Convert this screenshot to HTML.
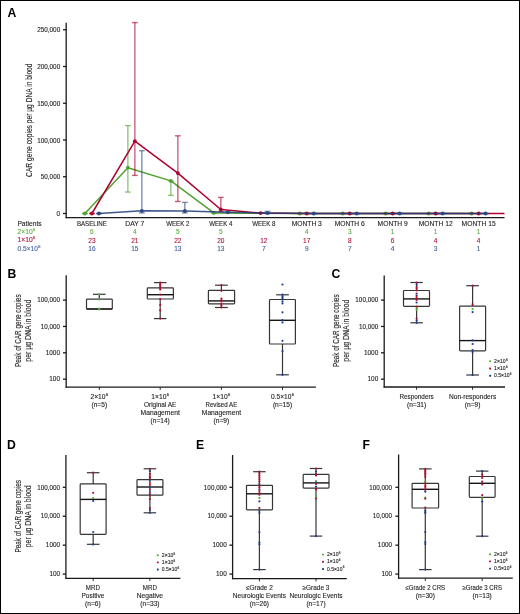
<!DOCTYPE html>
<html><head><meta charset="utf-8"><style>
html,body{margin:0;padding:0;background:#fff;}
body{width:520px;height:614px;overflow:hidden;font-family:"Liberation Sans", sans-serif;}
svg{display:block;will-change:transform;}
</style></head><body>
<svg width="520" height="614" viewBox="0 0 520 614" font-family='"Liberation Sans", sans-serif'>
<rect x="0" y="0" width="520" height="614" fill="#fff"/>
<rect x="0.5" y="0.5" width="519" height="613" fill="none" stroke="#000" stroke-width="1"/>
<text x="7.6" y="16.6" font-size="12.2" font-weight="bold" fill="#000">A</text>
<line x1="66.20" y1="22.80" x2="66.20" y2="218.30" stroke="#1a1a1a" stroke-width="1.3" />
<line x1="65.60" y1="217.70" x2="504.50" y2="217.70" stroke="#1a1a1a" stroke-width="1.3" />
<line x1="63.00" y1="213.50" x2="66.20" y2="213.50" stroke="#1a1a1a" stroke-width="1.3" />
<text x="60.20" y="216.20" font-size="6.8" text-anchor="end" fill="#231f20" stroke="#231f20" stroke-width="0.12" font-weight="normal" textLength="3.59" lengthAdjust="spacingAndGlyphs" >0</text>
<line x1="63.00" y1="176.75" x2="66.20" y2="176.75" stroke="#1a1a1a" stroke-width="1.3" />
<text x="60.20" y="179.45" font-size="6.8" text-anchor="end" fill="#231f20" stroke="#231f20" stroke-width="0.12" font-weight="normal" textLength="19.40" lengthAdjust="spacingAndGlyphs" >50,000</text>
<line x1="63.00" y1="140.00" x2="66.20" y2="140.00" stroke="#1a1a1a" stroke-width="1.3" />
<text x="60.20" y="142.70" font-size="6.8" text-anchor="end" fill="#231f20" stroke="#231f20" stroke-width="0.12" font-weight="normal" textLength="23.00" lengthAdjust="spacingAndGlyphs" >100,000</text>
<line x1="63.00" y1="103.25" x2="66.20" y2="103.25" stroke="#1a1a1a" stroke-width="1.3" />
<text x="60.20" y="105.95" font-size="6.8" text-anchor="end" fill="#231f20" stroke="#231f20" stroke-width="0.12" font-weight="normal" textLength="23.00" lengthAdjust="spacingAndGlyphs" >150,000</text>
<line x1="63.00" y1="66.50" x2="66.20" y2="66.50" stroke="#1a1a1a" stroke-width="1.3" />
<text x="60.20" y="69.20" font-size="6.8" text-anchor="end" fill="#231f20" stroke="#231f20" stroke-width="0.12" font-weight="normal" textLength="23.00" lengthAdjust="spacingAndGlyphs" >200,000</text>
<line x1="63.00" y1="29.75" x2="66.20" y2="29.75" stroke="#1a1a1a" stroke-width="1.3" />
<text x="60.20" y="32.45" font-size="6.8" text-anchor="end" fill="#231f20" stroke="#231f20" stroke-width="0.12" font-weight="normal" textLength="23.00" lengthAdjust="spacingAndGlyphs" >250,000</text>
<text x="31.90" y="120.20" transform="rotate(-90 31.90 120.20)" font-size="8.5" text-anchor="middle" fill="#231f20" stroke="#231f20" stroke-width="0.12" font-weight="normal" textLength="113.40" lengthAdjust="spacingAndGlyphs" >CAR gene copies per µg DNA in blood</text>
<text x="91.90" y="226.00" font-size="6.9" text-anchor="middle" fill="#231f20" stroke="#231f20" stroke-width="0.12" font-weight="normal" textLength="30.00" lengthAdjust="spacingAndGlyphs" >BASELINE</text>
<text x="134.87" y="226.00" font-size="6.9" text-anchor="middle" fill="#231f20" stroke="#231f20" stroke-width="0.12" font-weight="normal" textLength="19.08" lengthAdjust="spacingAndGlyphs" >DAY 7</text>
<text x="177.84" y="226.00" font-size="6.9" text-anchor="middle" fill="#231f20" stroke="#231f20" stroke-width="0.12" font-weight="normal" textLength="23.20" lengthAdjust="spacingAndGlyphs" >WEEK 2</text>
<text x="220.81" y="226.00" font-size="6.9" text-anchor="middle" fill="#231f20" stroke="#231f20" stroke-width="0.12" font-weight="normal" textLength="23.20" lengthAdjust="spacingAndGlyphs" >WEEK 4</text>
<text x="263.78" y="226.00" font-size="6.9" text-anchor="middle" fill="#231f20" stroke="#231f20" stroke-width="0.12" font-weight="normal" textLength="23.20" lengthAdjust="spacingAndGlyphs" >WEEK 8</text>
<text x="306.75" y="226.00" font-size="6.9" text-anchor="middle" fill="#231f20" stroke="#231f20" stroke-width="0.12" font-weight="normal" textLength="30.19" lengthAdjust="spacingAndGlyphs" >MONTH 3</text>
<text x="349.72" y="226.00" font-size="6.9" text-anchor="middle" fill="#231f20" stroke="#231f20" stroke-width="0.12" font-weight="normal" textLength="30.19" lengthAdjust="spacingAndGlyphs" >MONTH 6</text>
<text x="392.69" y="226.00" font-size="6.9" text-anchor="middle" fill="#231f20" stroke="#231f20" stroke-width="0.12" font-weight="normal" textLength="30.19" lengthAdjust="spacingAndGlyphs" >MONTH 9</text>
<text x="435.66" y="226.00" font-size="6.9" text-anchor="middle" fill="#231f20" stroke="#231f20" stroke-width="0.12" font-weight="normal" textLength="34.04" lengthAdjust="spacingAndGlyphs" >MONTH 12</text>
<text x="478.63" y="226.00" font-size="6.9" text-anchor="middle" fill="#231f20" stroke="#231f20" stroke-width="0.12" font-weight="normal" textLength="34.04" lengthAdjust="spacingAndGlyphs" >MONTH 15</text>
<text x="91.90" y="234.40" font-size="6.9" text-anchor="middle" fill="#5fae45" stroke="#5fae45" stroke-width="0.12" font-weight="normal" textLength="3.64" lengthAdjust="spacingAndGlyphs" >6</text>
<text x="91.90" y="242.50" font-size="6.9" text-anchor="middle" fill="#b5163f" stroke="#b5163f" stroke-width="0.12" font-weight="normal" textLength="7.28" lengthAdjust="spacingAndGlyphs" >23</text>
<text x="91.90" y="250.60" font-size="6.9" text-anchor="middle" fill="#46629f" stroke="#46629f" stroke-width="0.12" font-weight="normal" textLength="7.28" lengthAdjust="spacingAndGlyphs" >16</text>
<text x="134.87" y="234.40" font-size="6.9" text-anchor="middle" fill="#5fae45" stroke="#5fae45" stroke-width="0.12" font-weight="normal" textLength="3.64" lengthAdjust="spacingAndGlyphs" >4</text>
<text x="134.87" y="242.50" font-size="6.9" text-anchor="middle" fill="#b5163f" stroke="#b5163f" stroke-width="0.12" font-weight="normal" textLength="7.28" lengthAdjust="spacingAndGlyphs" >21</text>
<text x="134.87" y="250.60" font-size="6.9" text-anchor="middle" fill="#46629f" stroke="#46629f" stroke-width="0.12" font-weight="normal" textLength="7.28" lengthAdjust="spacingAndGlyphs" >15</text>
<text x="177.84" y="234.40" font-size="6.9" text-anchor="middle" fill="#5fae45" stroke="#5fae45" stroke-width="0.12" font-weight="normal" textLength="3.64" lengthAdjust="spacingAndGlyphs" >5</text>
<text x="177.84" y="242.50" font-size="6.9" text-anchor="middle" fill="#b5163f" stroke="#b5163f" stroke-width="0.12" font-weight="normal" textLength="7.28" lengthAdjust="spacingAndGlyphs" >22</text>
<text x="177.84" y="250.60" font-size="6.9" text-anchor="middle" fill="#46629f" stroke="#46629f" stroke-width="0.12" font-weight="normal" textLength="7.28" lengthAdjust="spacingAndGlyphs" >13</text>
<text x="220.81" y="234.40" font-size="6.9" text-anchor="middle" fill="#5fae45" stroke="#5fae45" stroke-width="0.12" font-weight="normal" textLength="3.64" lengthAdjust="spacingAndGlyphs" >5</text>
<text x="220.81" y="242.50" font-size="6.9" text-anchor="middle" fill="#b5163f" stroke="#b5163f" stroke-width="0.12" font-weight="normal" textLength="7.28" lengthAdjust="spacingAndGlyphs" >20</text>
<text x="220.81" y="250.60" font-size="6.9" text-anchor="middle" fill="#46629f" stroke="#46629f" stroke-width="0.12" font-weight="normal" textLength="7.28" lengthAdjust="spacingAndGlyphs" >13</text>
<text x="263.78" y="242.50" font-size="6.9" text-anchor="middle" fill="#b5163f" stroke="#b5163f" stroke-width="0.12" font-weight="normal" textLength="7.28" lengthAdjust="spacingAndGlyphs" >12</text>
<text x="263.78" y="250.60" font-size="6.9" text-anchor="middle" fill="#46629f" stroke="#46629f" stroke-width="0.12" font-weight="normal" textLength="3.64" lengthAdjust="spacingAndGlyphs" >7</text>
<text x="306.75" y="234.40" font-size="6.9" text-anchor="middle" fill="#5fae45" stroke="#5fae45" stroke-width="0.12" font-weight="normal" textLength="3.64" lengthAdjust="spacingAndGlyphs" >4</text>
<text x="306.75" y="242.50" font-size="6.9" text-anchor="middle" fill="#b5163f" stroke="#b5163f" stroke-width="0.12" font-weight="normal" textLength="7.28" lengthAdjust="spacingAndGlyphs" >17</text>
<text x="306.75" y="250.60" font-size="6.9" text-anchor="middle" fill="#46629f" stroke="#46629f" stroke-width="0.12" font-weight="normal" textLength="3.64" lengthAdjust="spacingAndGlyphs" >9</text>
<text x="349.72" y="234.40" font-size="6.9" text-anchor="middle" fill="#5fae45" stroke="#5fae45" stroke-width="0.12" font-weight="normal" textLength="3.64" lengthAdjust="spacingAndGlyphs" >3</text>
<text x="349.72" y="242.50" font-size="6.9" text-anchor="middle" fill="#b5163f" stroke="#b5163f" stroke-width="0.12" font-weight="normal" textLength="3.64" lengthAdjust="spacingAndGlyphs" >8</text>
<text x="349.72" y="250.60" font-size="6.9" text-anchor="middle" fill="#46629f" stroke="#46629f" stroke-width="0.12" font-weight="normal" textLength="3.64" lengthAdjust="spacingAndGlyphs" >7</text>
<text x="392.69" y="234.40" font-size="6.9" text-anchor="middle" fill="#5fae45" stroke="#5fae45" stroke-width="0.12" font-weight="normal" textLength="3.64" lengthAdjust="spacingAndGlyphs" >1</text>
<text x="392.69" y="242.50" font-size="6.9" text-anchor="middle" fill="#b5163f" stroke="#b5163f" stroke-width="0.12" font-weight="normal" textLength="3.64" lengthAdjust="spacingAndGlyphs" >6</text>
<text x="392.69" y="250.60" font-size="6.9" text-anchor="middle" fill="#46629f" stroke="#46629f" stroke-width="0.12" font-weight="normal" textLength="3.64" lengthAdjust="spacingAndGlyphs" >4</text>
<text x="435.66" y="234.40" font-size="6.9" text-anchor="middle" fill="#5fae45" stroke="#5fae45" stroke-width="0.12" font-weight="normal" textLength="3.64" lengthAdjust="spacingAndGlyphs" >1</text>
<text x="435.66" y="242.50" font-size="6.9" text-anchor="middle" fill="#b5163f" stroke="#b5163f" stroke-width="0.12" font-weight="normal" textLength="3.64" lengthAdjust="spacingAndGlyphs" >4</text>
<text x="435.66" y="250.60" font-size="6.9" text-anchor="middle" fill="#46629f" stroke="#46629f" stroke-width="0.12" font-weight="normal" textLength="3.64" lengthAdjust="spacingAndGlyphs" >3</text>
<text x="478.63" y="234.40" font-size="6.9" text-anchor="middle" fill="#5fae45" stroke="#5fae45" stroke-width="0.12" font-weight="normal" textLength="3.64" lengthAdjust="spacingAndGlyphs" >1</text>
<text x="478.63" y="242.50" font-size="6.9" text-anchor="middle" fill="#b5163f" stroke="#b5163f" stroke-width="0.12" font-weight="normal" textLength="3.64" lengthAdjust="spacingAndGlyphs" >4</text>
<text x="478.63" y="250.60" font-size="6.9" text-anchor="middle" fill="#46629f" stroke="#46629f" stroke-width="0.12" font-weight="normal" textLength="3.64" lengthAdjust="spacingAndGlyphs" >1</text>
<text x="17.40" y="226.00" font-size="6.8" text-anchor="start" fill="#231f20" stroke="#231f20" stroke-width="0.12" font-weight="normal" textLength="24.21" lengthAdjust="spacingAndGlyphs" >Patients</text>
<text x="17.60" y="234.20" font-size="6.8" text-anchor="start" fill="#5fae45" stroke="#5fae45" stroke-width="0.12" font-weight="normal" textLength="15.16" lengthAdjust="spacingAndGlyphs" >2×10</text>
<text x="33.06" y="231.34" font-size="4.08" text-anchor="start" fill="#5fae45" stroke="#5fae45" stroke-width="0.12" font-weight="normal" textLength="2.26" lengthAdjust="spacingAndGlyphs" >6</text>
<text x="17.60" y="242.30" font-size="6.8" text-anchor="start" fill="#b5163f" stroke="#b5163f" stroke-width="0.12" font-weight="normal" textLength="15.16" lengthAdjust="spacingAndGlyphs" >1×10</text>
<text x="33.06" y="239.44" font-size="4.08" text-anchor="start" fill="#b5163f" stroke="#b5163f" stroke-width="0.12" font-weight="normal" textLength="2.26" lengthAdjust="spacingAndGlyphs" >6</text>
<text x="17.60" y="250.50" font-size="6.8" text-anchor="start" fill="#46629f" stroke="#46629f" stroke-width="0.12" font-weight="normal" textLength="20.27" lengthAdjust="spacingAndGlyphs" >0.5×10</text>
<text x="38.17" y="247.64" font-size="4.08" text-anchor="start" fill="#46629f" stroke="#46629f" stroke-width="0.12" font-weight="normal" textLength="2.26" lengthAdjust="spacingAndGlyphs" >6</text>
<line x1="82.00" y1="213.50" x2="87.80" y2="213.50" stroke="#51a230" stroke-width="1.4" stroke-opacity="0.62"/>
<line x1="82.00" y1="213.50" x2="87.80" y2="213.50" stroke="#51a230" stroke-width="1.4" stroke-opacity="0.62"/>
<line x1="127.87" y1="125.60" x2="127.87" y2="192.10" stroke="#51a230" stroke-width="1.4" stroke-opacity="0.62"/>
<line x1="124.97" y1="125.60" x2="130.77" y2="125.60" stroke="#51a230" stroke-width="1.4" stroke-opacity="0.62"/>
<line x1="124.97" y1="192.10" x2="130.77" y2="192.10" stroke="#51a230" stroke-width="1.4" stroke-opacity="0.62"/>
<line x1="170.84" y1="180.90" x2="170.84" y2="195.40" stroke="#51a230" stroke-width="1.4" stroke-opacity="0.62"/>
<line x1="167.94" y1="180.90" x2="173.74" y2="180.90" stroke="#51a230" stroke-width="1.4" stroke-opacity="0.62"/>
<line x1="167.94" y1="195.40" x2="173.74" y2="195.40" stroke="#51a230" stroke-width="1.4" stroke-opacity="0.62"/>
<line x1="210.91" y1="212.90" x2="216.71" y2="212.90" stroke="#51a230" stroke-width="1.4" stroke-opacity="0.62"/>
<line x1="210.91" y1="212.90" x2="216.71" y2="212.90" stroke="#51a230" stroke-width="1.4" stroke-opacity="0.62"/>
<line x1="296.85" y1="213.50" x2="302.65" y2="213.50" stroke="#51a230" stroke-width="1.4" stroke-opacity="0.62"/>
<line x1="296.85" y1="213.50" x2="302.65" y2="213.50" stroke="#51a230" stroke-width="1.4" stroke-opacity="0.62"/>
<line x1="339.82" y1="213.50" x2="345.62" y2="213.50" stroke="#51a230" stroke-width="1.4" stroke-opacity="0.62"/>
<line x1="339.82" y1="213.50" x2="345.62" y2="213.50" stroke="#51a230" stroke-width="1.4" stroke-opacity="0.62"/>
<line x1="382.79" y1="213.50" x2="388.59" y2="213.50" stroke="#51a230" stroke-width="1.4" stroke-opacity="0.62"/>
<line x1="382.79" y1="213.50" x2="388.59" y2="213.50" stroke="#51a230" stroke-width="1.4" stroke-opacity="0.62"/>
<line x1="425.76" y1="213.50" x2="431.56" y2="213.50" stroke="#51a230" stroke-width="1.4" stroke-opacity="0.62"/>
<line x1="425.76" y1="213.50" x2="431.56" y2="213.50" stroke="#51a230" stroke-width="1.4" stroke-opacity="0.62"/>
<line x1="468.73" y1="213.50" x2="474.53" y2="213.50" stroke="#51a230" stroke-width="1.4" stroke-opacity="0.62"/>
<line x1="468.73" y1="213.50" x2="474.53" y2="213.50" stroke="#51a230" stroke-width="1.4" stroke-opacity="0.62"/>
<polyline points="84.90,213.50 127.87,167.70 170.84,180.90 213.81,212.90 299.75,213.50 342.72,213.50 385.69,213.50 428.66,213.50 471.63,213.50" fill="none" stroke="#51a230" stroke-width="1.5" stroke-linejoin="round"/>
<circle cx="84.90" cy="213.50" r="1.9" fill="#51a230"/>
<circle cx="127.87" cy="167.70" r="1.9" fill="#51a230"/>
<circle cx="170.84" cy="180.90" r="1.9" fill="#51a230"/>
<circle cx="213.81" cy="212.90" r="1.9" fill="#51a230"/>
<circle cx="299.75" cy="213.50" r="1.9" fill="#51a230"/>
<circle cx="342.72" cy="213.50" r="1.9" fill="#51a230"/>
<circle cx="385.69" cy="213.50" r="1.9" fill="#51a230"/>
<circle cx="428.66" cy="213.50" r="1.9" fill="#51a230"/>
<circle cx="471.63" cy="213.50" r="1.9" fill="#51a230"/>
<line x1="89.00" y1="213.50" x2="94.80" y2="213.50" stroke="#a8042f" stroke-width="1.4" stroke-opacity="0.62"/>
<line x1="89.00" y1="213.50" x2="94.80" y2="213.50" stroke="#a8042f" stroke-width="1.4" stroke-opacity="0.62"/>
<line x1="134.87" y1="22.60" x2="134.87" y2="175.40" stroke="#a8042f" stroke-width="1.4" stroke-opacity="0.62"/>
<line x1="131.97" y1="22.60" x2="137.77" y2="22.60" stroke="#a8042f" stroke-width="1.4" stroke-opacity="0.62"/>
<line x1="131.97" y1="175.40" x2="137.77" y2="175.40" stroke="#a8042f" stroke-width="1.4" stroke-opacity="0.62"/>
<line x1="177.84" y1="135.80" x2="177.84" y2="201.50" stroke="#a8042f" stroke-width="1.4" stroke-opacity="0.62"/>
<line x1="174.94" y1="135.80" x2="180.74" y2="135.80" stroke="#a8042f" stroke-width="1.4" stroke-opacity="0.62"/>
<line x1="174.94" y1="201.50" x2="180.74" y2="201.50" stroke="#a8042f" stroke-width="1.4" stroke-opacity="0.62"/>
<line x1="220.81" y1="197.40" x2="220.81" y2="211.50" stroke="#a8042f" stroke-width="1.4" stroke-opacity="0.62"/>
<line x1="217.91" y1="197.40" x2="223.71" y2="197.40" stroke="#a8042f" stroke-width="1.4" stroke-opacity="0.62"/>
<line x1="217.91" y1="211.50" x2="223.71" y2="211.50" stroke="#a8042f" stroke-width="1.4" stroke-opacity="0.62"/>
<line x1="257.60" y1="213.10" x2="263.40" y2="213.10" stroke="#a8042f" stroke-width="1.4" stroke-opacity="0.62"/>
<line x1="257.60" y1="213.10" x2="263.40" y2="213.10" stroke="#a8042f" stroke-width="1.4" stroke-opacity="0.62"/>
<line x1="303.85" y1="213.50" x2="309.65" y2="213.50" stroke="#a8042f" stroke-width="1.4" stroke-opacity="0.62"/>
<line x1="303.85" y1="213.50" x2="309.65" y2="213.50" stroke="#a8042f" stroke-width="1.4" stroke-opacity="0.62"/>
<line x1="346.82" y1="213.50" x2="352.62" y2="213.50" stroke="#a8042f" stroke-width="1.4" stroke-opacity="0.62"/>
<line x1="346.82" y1="213.50" x2="352.62" y2="213.50" stroke="#a8042f" stroke-width="1.4" stroke-opacity="0.62"/>
<line x1="389.79" y1="213.50" x2="395.59" y2="213.50" stroke="#a8042f" stroke-width="1.4" stroke-opacity="0.62"/>
<line x1="389.79" y1="213.50" x2="395.59" y2="213.50" stroke="#a8042f" stroke-width="1.4" stroke-opacity="0.62"/>
<line x1="432.76" y1="213.50" x2="438.56" y2="213.50" stroke="#a8042f" stroke-width="1.4" stroke-opacity="0.62"/>
<line x1="432.76" y1="213.50" x2="438.56" y2="213.50" stroke="#a8042f" stroke-width="1.4" stroke-opacity="0.62"/>
<line x1="475.73" y1="213.50" x2="481.53" y2="213.50" stroke="#a8042f" stroke-width="1.4" stroke-opacity="0.62"/>
<line x1="475.73" y1="213.50" x2="481.53" y2="213.50" stroke="#a8042f" stroke-width="1.4" stroke-opacity="0.62"/>
<polyline points="91.90,213.50 134.87,141.20 177.84,173.10 220.81,209.50 260.50,213.10 306.75,213.50 349.72,213.50 392.69,213.50 435.66,213.50 478.63,213.50 504.50,213.50" fill="none" stroke="#a8042f" stroke-width="1.5" stroke-linejoin="round"/>
<circle cx="91.90" cy="213.50" r="1.9" fill="#a8042f"/>
<circle cx="134.87" cy="141.20" r="1.9" fill="#a8042f"/>
<circle cx="177.84" cy="173.10" r="1.9" fill="#a8042f"/>
<circle cx="220.81" cy="209.50" r="1.9" fill="#a8042f"/>
<circle cx="260.50" cy="213.10" r="1.9" fill="#a8042f"/>
<circle cx="306.75" cy="213.50" r="1.9" fill="#a8042f"/>
<circle cx="349.72" cy="213.50" r="1.9" fill="#a8042f"/>
<circle cx="392.69" cy="213.50" r="1.9" fill="#a8042f"/>
<circle cx="435.66" cy="213.50" r="1.9" fill="#a8042f"/>
<circle cx="478.63" cy="213.50" r="1.9" fill="#a8042f"/>
<line x1="96.00" y1="213.50" x2="101.80" y2="213.50" stroke="#2b4886" stroke-width="1.4" stroke-opacity="0.62"/>
<line x1="96.00" y1="213.50" x2="101.80" y2="213.50" stroke="#2b4886" stroke-width="1.4" stroke-opacity="0.62"/>
<line x1="141.87" y1="150.70" x2="141.87" y2="212.90" stroke="#2b4886" stroke-width="1.4" stroke-opacity="0.62"/>
<line x1="138.97" y1="150.70" x2="144.77" y2="150.70" stroke="#2b4886" stroke-width="1.4" stroke-opacity="0.62"/>
<line x1="138.97" y1="212.90" x2="144.77" y2="212.90" stroke="#2b4886" stroke-width="1.4" stroke-opacity="0.62"/>
<line x1="184.84" y1="202.40" x2="184.84" y2="212.90" stroke="#2b4886" stroke-width="1.4" stroke-opacity="0.62"/>
<line x1="181.94" y1="202.40" x2="187.74" y2="202.40" stroke="#2b4886" stroke-width="1.4" stroke-opacity="0.62"/>
<line x1="181.94" y1="212.90" x2="187.74" y2="212.90" stroke="#2b4886" stroke-width="1.4" stroke-opacity="0.62"/>
<line x1="224.91" y1="212.30" x2="230.71" y2="212.30" stroke="#2b4886" stroke-width="1.4" stroke-opacity="0.62"/>
<line x1="224.91" y1="212.30" x2="230.71" y2="212.30" stroke="#2b4886" stroke-width="1.4" stroke-opacity="0.62"/>
<line x1="267.50" y1="211.40" x2="267.50" y2="213.60" stroke="#2b4886" stroke-width="1.4" stroke-opacity="0.62"/>
<line x1="264.60" y1="211.40" x2="270.40" y2="211.40" stroke="#2b4886" stroke-width="1.4" stroke-opacity="0.62"/>
<line x1="264.60" y1="213.60" x2="270.40" y2="213.60" stroke="#2b4886" stroke-width="1.4" stroke-opacity="0.62"/>
<line x1="310.85" y1="213.50" x2="316.65" y2="213.50" stroke="#2b4886" stroke-width="1.4" stroke-opacity="0.62"/>
<line x1="310.85" y1="213.50" x2="316.65" y2="213.50" stroke="#2b4886" stroke-width="1.4" stroke-opacity="0.62"/>
<line x1="353.82" y1="213.50" x2="359.62" y2="213.50" stroke="#2b4886" stroke-width="1.4" stroke-opacity="0.62"/>
<line x1="353.82" y1="213.50" x2="359.62" y2="213.50" stroke="#2b4886" stroke-width="1.4" stroke-opacity="0.62"/>
<line x1="396.79" y1="213.50" x2="402.59" y2="213.50" stroke="#2b4886" stroke-width="1.4" stroke-opacity="0.62"/>
<line x1="396.79" y1="213.50" x2="402.59" y2="213.50" stroke="#2b4886" stroke-width="1.4" stroke-opacity="0.62"/>
<line x1="439.76" y1="213.50" x2="445.56" y2="213.50" stroke="#2b4886" stroke-width="1.4" stroke-opacity="0.62"/>
<line x1="439.76" y1="213.50" x2="445.56" y2="213.50" stroke="#2b4886" stroke-width="1.4" stroke-opacity="0.62"/>
<line x1="482.73" y1="213.50" x2="488.53" y2="213.50" stroke="#2b4886" stroke-width="1.4" stroke-opacity="0.62"/>
<line x1="482.73" y1="213.50" x2="488.53" y2="213.50" stroke="#2b4886" stroke-width="1.4" stroke-opacity="0.62"/>
<polyline points="98.90,213.50 141.87,210.80 184.84,211.00 227.81,212.30 267.50,213.10 313.75,213.50 356.72,213.50 399.69,213.50 442.66,213.50 485.63,213.50" fill="none" stroke="#1f3d78" stroke-opacity="0.86" stroke-width="1.45" stroke-linejoin="round"/>
<circle cx="98.90" cy="213.50" r="1.9" fill="#2b4886"/>
<circle cx="141.87" cy="210.80" r="1.9" fill="#2b4886"/>
<circle cx="184.84" cy="211.00" r="1.9" fill="#2b4886"/>
<circle cx="227.81" cy="212.30" r="1.9" fill="#2b4886"/>
<circle cx="267.50" cy="213.10" r="1.9" fill="#2b4886"/>
<circle cx="313.75" cy="213.50" r="1.9" fill="#2b4886"/>
<circle cx="356.72" cy="213.50" r="1.9" fill="#2b4886"/>
<circle cx="399.69" cy="213.50" r="1.9" fill="#2b4886"/>
<circle cx="442.66" cy="213.50" r="1.9" fill="#2b4886"/>
<circle cx="485.63" cy="213.50" r="1.9" fill="#2b4886"/>
<text x="7.6" y="277.6" font-size="12.2" font-weight="bold" fill="#000">B</text>
<line x1="66.20" y1="275.20" x2="66.20" y2="387.70" stroke="#1a1a1a" stroke-width="1.3" />
<line x1="65.60" y1="387.10" x2="315.90" y2="387.10" stroke="#1a1a1a" stroke-width="1.3" />
<line x1="63.00" y1="300.10" x2="66.20" y2="300.10" stroke="#1a1a1a" stroke-width="1.3" />
<text x="60.00" y="302.30" font-size="6.8" text-anchor="end" fill="#231f20" stroke="#231f20" stroke-width="0.12" font-weight="normal" textLength="22.83" lengthAdjust="spacingAndGlyphs" >100,000</text>
<line x1="63.00" y1="326.45" x2="66.20" y2="326.45" stroke="#1a1a1a" stroke-width="1.3" />
<text x="60.00" y="328.65" font-size="6.8" text-anchor="end" fill="#231f20" stroke="#231f20" stroke-width="0.12" font-weight="normal" textLength="19.27" lengthAdjust="spacingAndGlyphs" >10,000</text>
<line x1="63.00" y1="352.80" x2="66.20" y2="352.80" stroke="#1a1a1a" stroke-width="1.3" />
<text x="60.00" y="355.00" font-size="6.8" text-anchor="end" fill="#231f20" stroke="#231f20" stroke-width="0.12" font-weight="normal" textLength="14.26" lengthAdjust="spacingAndGlyphs" >1000</text>
<line x1="63.00" y1="379.15" x2="66.20" y2="379.15" stroke="#1a1a1a" stroke-width="1.3" />
<text x="60.00" y="381.35" font-size="6.8" text-anchor="end" fill="#231f20" stroke="#231f20" stroke-width="0.12" font-weight="normal" textLength="10.70" lengthAdjust="spacingAndGlyphs" >100</text>
<text x="21.00" y="330.70" transform="rotate(-90 21.00 330.70)" font-size="8.2" text-anchor="middle" fill="#231f20" stroke="#231f20" stroke-width="0.12" font-weight="normal" textLength="72.50" lengthAdjust="spacingAndGlyphs" >Peak of CAR gene copies</text>
<text x="31.20" y="330.70" transform="rotate(-90 31.20 330.70)" font-size="8.2" text-anchor="middle" fill="#231f20" stroke="#231f20" stroke-width="0.12" font-weight="normal" textLength="61.90" lengthAdjust="spacingAndGlyphs" >per µg DNA in blood</text>
<line x1="99.30" y1="387.10" x2="99.30" y2="389.90" stroke="#1a1a1a" stroke-width="0.9" />
<line x1="160.20" y1="387.10" x2="160.20" y2="389.90" stroke="#1a1a1a" stroke-width="0.9" />
<line x1="221.40" y1="387.10" x2="221.40" y2="389.90" stroke="#1a1a1a" stroke-width="0.9" />
<line x1="282.50" y1="387.10" x2="282.50" y2="389.90" stroke="#1a1a1a" stroke-width="0.9" />
<line x1="99.30" y1="294.30" x2="99.30" y2="299.20" stroke="#363636" stroke-width="1.2" />
<line x1="93.00" y1="294.30" x2="105.60" y2="294.30" stroke="#363636" stroke-width="1.2" />
<rect x="86.50" y="299.20" width="25.80" height="9.80" fill="none" stroke="#363636" stroke-width="1.2" rx="0.8"/>
<line x1="86.50" y1="309.00" x2="112.30" y2="309.00" stroke="#151515" stroke-width="1.4" />
<line x1="160.20" y1="282.60" x2="160.20" y2="287.80" stroke="#363636" stroke-width="1.2" />
<line x1="160.20" y1="299.00" x2="160.20" y2="318.60" stroke="#363636" stroke-width="1.2" />
<line x1="153.95" y1="282.60" x2="166.45" y2="282.60" stroke="#363636" stroke-width="1.2" />
<line x1="153.95" y1="318.60" x2="166.45" y2="318.60" stroke="#363636" stroke-width="1.2" />
<rect x="147.30" y="287.80" width="26.10" height="11.20" fill="none" stroke="#363636" stroke-width="1.2" rx="0.8"/>
<line x1="147.30" y1="294.70" x2="173.40" y2="294.70" stroke="#151515" stroke-width="1.4" />
<line x1="221.40" y1="285.20" x2="221.40" y2="290.40" stroke="#363636" stroke-width="1.2" />
<line x1="221.40" y1="303.90" x2="221.40" y2="307.50" stroke="#363636" stroke-width="1.2" />
<line x1="215.00" y1="285.20" x2="227.80" y2="285.20" stroke="#363636" stroke-width="1.2" />
<line x1="215.00" y1="307.50" x2="227.80" y2="307.50" stroke="#363636" stroke-width="1.2" />
<rect x="208.40" y="290.40" width="26.20" height="13.50" fill="none" stroke="#363636" stroke-width="1.2" rx="0.8"/>
<line x1="208.40" y1="300.90" x2="234.60" y2="300.90" stroke="#151515" stroke-width="1.4" />
<line x1="282.50" y1="294.80" x2="282.50" y2="299.50" stroke="#363636" stroke-width="1.2" />
<line x1="282.50" y1="344.00" x2="282.50" y2="374.80" stroke="#363636" stroke-width="1.2" />
<line x1="276.15" y1="294.80" x2="288.85" y2="294.80" stroke="#363636" stroke-width="1.2" />
<line x1="276.15" y1="374.80" x2="288.85" y2="374.80" stroke="#363636" stroke-width="1.2" />
<rect x="269.50" y="299.50" width="25.90" height="44.50" fill="none" stroke="#363636" stroke-width="1.2" rx="0.8"/>
<line x1="269.50" y1="320.30" x2="295.40" y2="320.30" stroke="#151515" stroke-width="1.4" />
<circle cx="99.30" cy="294.30" r="1.1" fill="#52b22e"/>
<circle cx="99.30" cy="299.40" r="1.1" fill="#52b22e"/>
<circle cx="99.30" cy="308.60" r="1.1" fill="#52b22e"/>
<circle cx="99.30" cy="309.40" r="1.1" fill="#52b22e"/>
<circle cx="160.20" cy="282.60" r="1.1" fill="#b3102f"/>
<circle cx="160.20" cy="284.30" r="1.1" fill="#b3102f"/>
<circle cx="160.20" cy="286.00" r="1.1" fill="#b3102f"/>
<circle cx="160.20" cy="288.00" r="1.1" fill="#b3102f"/>
<circle cx="160.20" cy="289.60" r="1.1" fill="#b3102f"/>
<circle cx="160.20" cy="294.50" r="1.1" fill="#b3102f"/>
<circle cx="160.20" cy="299.00" r="1.1" fill="#b3102f"/>
<circle cx="160.20" cy="305.00" r="1.1" fill="#b3102f"/>
<circle cx="160.20" cy="310.30" r="1.1" fill="#b3102f"/>
<circle cx="160.20" cy="318.60" r="1.1" fill="#b3102f"/>
<circle cx="221.40" cy="285.20" r="1.1" fill="#b3102f"/>
<circle cx="221.40" cy="290.80" r="1.1" fill="#b3102f"/>
<circle cx="221.40" cy="298.50" r="1.1" fill="#b3102f"/>
<circle cx="221.40" cy="300.00" r="1.1" fill="#b3102f"/>
<circle cx="221.40" cy="301.50" r="1.1" fill="#b3102f"/>
<circle cx="221.40" cy="303.80" r="1.1" fill="#b3102f"/>
<circle cx="221.40" cy="305.50" r="1.1" fill="#b3102f"/>
<circle cx="221.40" cy="307.50" r="1.1" fill="#b3102f"/>
<circle cx="282.50" cy="284.50" r="1.1" fill="#1f3f8f"/>
<circle cx="282.50" cy="294.70" r="1.1" fill="#1f3f8f"/>
<circle cx="282.50" cy="296.50" r="1.1" fill="#1f3f8f"/>
<circle cx="282.50" cy="298.20" r="1.1" fill="#1f3f8f"/>
<circle cx="282.50" cy="301.30" r="1.1" fill="#1f3f8f"/>
<circle cx="282.50" cy="303.40" r="1.1" fill="#1f3f8f"/>
<circle cx="282.50" cy="312.30" r="1.1" fill="#1f3f8f"/>
<circle cx="282.50" cy="320.10" r="1.1" fill="#1f3f8f"/>
<circle cx="282.50" cy="322.40" r="1.1" fill="#1f3f8f"/>
<circle cx="282.50" cy="340.80" r="1.1" fill="#1f3f8f"/>
<circle cx="282.50" cy="351.20" r="1.1" fill="#1f3f8f"/>
<circle cx="282.50" cy="374.80" r="1.1" fill="#1f3f8f"/>
<text x="90.44" y="399.20" font-size="6.8" text-anchor="start" fill="#231f20" stroke="#231f20" stroke-width="0.12" font-weight="normal" textLength="15.16" lengthAdjust="spacingAndGlyphs" >2×10</text>
<text x="105.90" y="396.34" font-size="4.08" text-anchor="start" fill="#231f20" stroke="#231f20" stroke-width="0.12" font-weight="normal" textLength="2.26" lengthAdjust="spacingAndGlyphs" >6</text>
<text x="99.30" y="407.05" font-size="6.8" text-anchor="middle" fill="#231f20" stroke="#231f20" stroke-width="0.12" font-weight="normal" textLength="15.62" lengthAdjust="spacingAndGlyphs" >(n=5)</text>
<text x="151.34" y="399.20" font-size="6.8" text-anchor="start" fill="#231f20" stroke="#231f20" stroke-width="0.12" font-weight="normal" textLength="15.16" lengthAdjust="spacingAndGlyphs" >1×10</text>
<text x="166.80" y="396.34" font-size="4.08" text-anchor="start" fill="#231f20" stroke="#231f20" stroke-width="0.12" font-weight="normal" textLength="2.26" lengthAdjust="spacingAndGlyphs" >6</text>
<text x="160.20" y="407.05" font-size="6.8" text-anchor="middle" fill="#231f20" stroke="#231f20" stroke-width="0.12" font-weight="normal" textLength="32.42" lengthAdjust="spacingAndGlyphs" >Original AE</text>
<text x="160.20" y="414.90" font-size="6.8" text-anchor="middle" fill="#231f20" stroke="#231f20" stroke-width="0.12" font-weight="normal" textLength="39.23" lengthAdjust="spacingAndGlyphs" >Management</text>
<text x="160.20" y="422.75" font-size="6.8" text-anchor="middle" fill="#231f20" stroke="#231f20" stroke-width="0.12" font-weight="normal" textLength="19.21" lengthAdjust="spacingAndGlyphs" >(n=14)</text>
<text x="212.54" y="399.20" font-size="6.8" text-anchor="start" fill="#231f20" stroke="#231f20" stroke-width="0.12" font-weight="normal" textLength="15.16" lengthAdjust="spacingAndGlyphs" >1×10</text>
<text x="228.00" y="396.34" font-size="4.08" text-anchor="start" fill="#231f20" stroke="#231f20" stroke-width="0.12" font-weight="normal" textLength="2.26" lengthAdjust="spacingAndGlyphs" >6</text>
<text x="221.40" y="407.05" font-size="6.8" text-anchor="middle" fill="#231f20" stroke="#231f20" stroke-width="0.12" font-weight="normal" textLength="31.72" lengthAdjust="spacingAndGlyphs" >Revised AE</text>
<text x="221.40" y="414.90" font-size="6.8" text-anchor="middle" fill="#231f20" stroke="#231f20" stroke-width="0.12" font-weight="normal" textLength="39.23" lengthAdjust="spacingAndGlyphs" >Management</text>
<text x="221.40" y="422.75" font-size="6.8" text-anchor="middle" fill="#231f20" stroke="#231f20" stroke-width="0.12" font-weight="normal" textLength="15.62" lengthAdjust="spacingAndGlyphs" >(n=9)</text>
<text x="271.09" y="399.20" font-size="6.8" text-anchor="start" fill="#231f20" stroke="#231f20" stroke-width="0.12" font-weight="normal" textLength="20.27" lengthAdjust="spacingAndGlyphs" >0.5×10</text>
<text x="291.66" y="396.34" font-size="4.08" text-anchor="start" fill="#231f20" stroke="#231f20" stroke-width="0.12" font-weight="normal" textLength="2.26" lengthAdjust="spacingAndGlyphs" >6</text>
<text x="282.50" y="407.05" font-size="6.8" text-anchor="middle" fill="#231f20" stroke="#231f20" stroke-width="0.12" font-weight="normal" textLength="19.21" lengthAdjust="spacingAndGlyphs" >(n=15)</text>
<text x="331.4" y="277.6" font-size="12.2" font-weight="bold" fill="#000">C</text>
<line x1="384.20" y1="275.50" x2="384.20" y2="387.60" stroke="#1a1a1a" stroke-width="1.3" />
<line x1="383.60" y1="387.00" x2="505.00" y2="387.00" stroke="#1a1a1a" stroke-width="1.3" />
<line x1="381.00" y1="300.10" x2="384.20" y2="300.10" stroke="#1a1a1a" stroke-width="1.3" />
<text x="378.20" y="302.30" font-size="6.8" text-anchor="end" fill="#231f20" stroke="#231f20" stroke-width="0.12" font-weight="normal" textLength="22.83" lengthAdjust="spacingAndGlyphs" >100,000</text>
<line x1="381.00" y1="326.45" x2="384.20" y2="326.45" stroke="#1a1a1a" stroke-width="1.3" />
<text x="378.20" y="328.65" font-size="6.8" text-anchor="end" fill="#231f20" stroke="#231f20" stroke-width="0.12" font-weight="normal" textLength="19.27" lengthAdjust="spacingAndGlyphs" >10,000</text>
<line x1="381.00" y1="352.80" x2="384.20" y2="352.80" stroke="#1a1a1a" stroke-width="1.3" />
<text x="378.20" y="355.00" font-size="6.8" text-anchor="end" fill="#231f20" stroke="#231f20" stroke-width="0.12" font-weight="normal" textLength="14.26" lengthAdjust="spacingAndGlyphs" >1000</text>
<line x1="381.00" y1="379.15" x2="384.20" y2="379.15" stroke="#1a1a1a" stroke-width="1.3" />
<text x="378.20" y="381.35" font-size="6.8" text-anchor="end" fill="#231f20" stroke="#231f20" stroke-width="0.12" font-weight="normal" textLength="10.70" lengthAdjust="spacingAndGlyphs" >100</text>
<text x="339.00" y="330.70" transform="rotate(-90 339.00 330.70)" font-size="8.2" text-anchor="middle" fill="#231f20" stroke="#231f20" stroke-width="0.12" font-weight="normal" textLength="72.50" lengthAdjust="spacingAndGlyphs" >Peak of CAR gene copies</text>
<text x="348.90" y="330.70" transform="rotate(-90 348.90 330.70)" font-size="8.2" text-anchor="middle" fill="#231f20" stroke="#231f20" stroke-width="0.12" font-weight="normal" textLength="61.90" lengthAdjust="spacingAndGlyphs" >per µg DNA in blood</text>
<line x1="416.60" y1="387.00" x2="416.60" y2="389.80" stroke="#1a1a1a" stroke-width="0.9" />
<line x1="472.60" y1="387.00" x2="472.60" y2="389.80" stroke="#1a1a1a" stroke-width="0.9" />
<line x1="416.60" y1="282.50" x2="416.60" y2="290.50" stroke="#363636" stroke-width="1.2" />
<line x1="416.60" y1="306.30" x2="416.60" y2="322.80" stroke="#363636" stroke-width="1.2" />
<line x1="410.40" y1="282.50" x2="422.80" y2="282.50" stroke="#363636" stroke-width="1.2" />
<line x1="410.40" y1="322.80" x2="422.80" y2="322.80" stroke="#363636" stroke-width="1.2" />
<rect x="403.50" y="290.50" width="26.00" height="15.80" fill="none" stroke="#363636" stroke-width="1.2" rx="0.8"/>
<line x1="403.50" y1="298.90" x2="429.50" y2="298.90" stroke="#151515" stroke-width="1.4" />
<line x1="472.60" y1="285.70" x2="472.60" y2="306.10" stroke="#363636" stroke-width="1.2" />
<line x1="472.60" y1="350.80" x2="472.60" y2="375.00" stroke="#363636" stroke-width="1.2" />
<line x1="466.30" y1="285.70" x2="478.90" y2="285.70" stroke="#363636" stroke-width="1.2" />
<line x1="466.30" y1="375.00" x2="478.90" y2="375.00" stroke="#363636" stroke-width="1.2" />
<rect x="459.60" y="306.10" width="26.00" height="44.70" fill="none" stroke="#363636" stroke-width="1.2" rx="0.8"/>
<line x1="459.60" y1="340.60" x2="485.60" y2="340.60" stroke="#151515" stroke-width="1.4" />
<circle cx="416.60" cy="282.50" r="1.1" fill="#b3102f"/>
<circle cx="416.60" cy="284.50" r="1.1" fill="#1f3f8f"/>
<circle cx="416.60" cy="287.00" r="1.1" fill="#b3102f"/>
<circle cx="416.60" cy="288.50" r="1.1" fill="#b3102f"/>
<circle cx="416.60" cy="290.50" r="1.1" fill="#b3102f"/>
<circle cx="416.60" cy="293.50" r="1.1" fill="#6a1f6a"/>
<circle cx="416.60" cy="295.50" r="1.1" fill="#1f3f8f"/>
<circle cx="416.60" cy="297.00" r="1.1" fill="#b3102f"/>
<circle cx="416.60" cy="298.50" r="1.1" fill="#b3102f"/>
<circle cx="416.60" cy="300.00" r="1.1" fill="#b3102f"/>
<circle cx="416.60" cy="302.50" r="1.1" fill="#1f3f8f"/>
<circle cx="416.60" cy="306.50" r="1.1" fill="#b3102f"/>
<circle cx="416.60" cy="308.00" r="1.1" fill="#8a7a30"/>
<circle cx="416.60" cy="310.00" r="1.1" fill="#52b22e"/>
<circle cx="416.60" cy="318.50" r="1.1" fill="#b3102f"/>
<circle cx="416.60" cy="320.50" r="1.1" fill="#1f3f8f"/>
<circle cx="416.60" cy="322.80" r="1.1" fill="#1f3f8f"/>
<circle cx="472.60" cy="285.70" r="1.1" fill="#b3102f"/>
<circle cx="472.60" cy="304.40" r="1.1" fill="#b3102f"/>
<circle cx="472.60" cy="309.00" r="1.1" fill="#52b22e"/>
<circle cx="472.60" cy="312.10" r="1.1" fill="#1f3f8f"/>
<circle cx="472.60" cy="340.30" r="1.1" fill="#1f3f8f"/>
<circle cx="472.60" cy="344.00" r="1.1" fill="#1f3f8f"/>
<circle cx="472.60" cy="350.00" r="1.1" fill="#1f3f8f"/>
<circle cx="472.60" cy="352.00" r="1.1" fill="#1f3f8f"/>
<circle cx="472.60" cy="375.00" r="1.1" fill="#1f3f8f"/>
<rect x="489.15" y="360.15" width="1.9" height="1.9" rx="0.5" fill="#52b22e"/>
<text x="494.10" y="362.70" font-size="5.1" text-anchor="start" fill="#231f20" stroke="#231f20" stroke-width="0.12" font-weight="normal" textLength="11.53" lengthAdjust="spacingAndGlyphs" >2×10</text>
<text x="505.93" y="360.56" font-size="3.0599999999999996" text-anchor="start" fill="#231f20" stroke="#231f20" stroke-width="0.12" font-weight="normal" textLength="1.72" lengthAdjust="spacingAndGlyphs" >6</text>
<rect x="489.15" y="367.50" width="1.9" height="1.9" rx="0.5" fill="#b3102f"/>
<text x="494.10" y="370.05" font-size="5.1" text-anchor="start" fill="#231f20" stroke="#231f20" stroke-width="0.12" font-weight="normal" textLength="11.53" lengthAdjust="spacingAndGlyphs" >1×10</text>
<text x="505.93" y="367.91" font-size="3.0599999999999996" text-anchor="start" fill="#231f20" stroke="#231f20" stroke-width="0.12" font-weight="normal" textLength="1.72" lengthAdjust="spacingAndGlyphs" >6</text>
<rect x="489.15" y="374.85" width="1.9" height="1.9" rx="0.5" fill="#1f3f8f"/>
<text x="494.10" y="377.40" font-size="5.1" text-anchor="start" fill="#231f20" stroke="#231f20" stroke-width="0.12" font-weight="normal" textLength="15.42" lengthAdjust="spacingAndGlyphs" >0.5×10</text>
<text x="509.82" y="375.26" font-size="3.0599999999999996" text-anchor="start" fill="#231f20" stroke="#231f20" stroke-width="0.12" font-weight="normal" textLength="1.72" lengthAdjust="spacingAndGlyphs" >6</text>
<text x="416.60" y="399.00" font-size="6.8" text-anchor="middle" fill="#231f20" stroke="#231f20" stroke-width="0.12" font-weight="normal" textLength="34.27" lengthAdjust="spacingAndGlyphs" >Responders</text>
<text x="416.60" y="406.85" font-size="6.8" text-anchor="middle" fill="#231f20" stroke="#231f20" stroke-width="0.12" font-weight="normal" textLength="19.21" lengthAdjust="spacingAndGlyphs" >(n=31)</text>
<text x="472.60" y="399.00" font-size="6.8" text-anchor="middle" fill="#231f20" stroke="#231f20" stroke-width="0.12" font-weight="normal" textLength="47.28" lengthAdjust="spacingAndGlyphs" >Non-responders</text>
<text x="472.60" y="406.85" font-size="6.8" text-anchor="middle" fill="#231f20" stroke="#231f20" stroke-width="0.12" font-weight="normal" textLength="15.62" lengthAdjust="spacingAndGlyphs" >(n=9)</text>
<text x="7.0" y="448.8" font-size="12.2" font-weight="bold" fill="#000">D</text>
<line x1="65.90" y1="455.00" x2="65.90" y2="578.90" stroke="#1a1a1a" stroke-width="1.3" />
<line x1="65.30" y1="578.30" x2="180.40" y2="578.30" stroke="#1a1a1a" stroke-width="1.3" />
<line x1="62.70" y1="487.30" x2="65.90" y2="487.30" stroke="#1a1a1a" stroke-width="1.3" />
<text x="60.10" y="489.50" font-size="6.8" text-anchor="end" fill="#231f20" stroke="#231f20" stroke-width="0.12" font-weight="normal" textLength="22.83" lengthAdjust="spacingAndGlyphs" >100,000</text>
<line x1="62.70" y1="516.23" x2="65.90" y2="516.23" stroke="#1a1a1a" stroke-width="1.3" />
<text x="60.10" y="518.43" font-size="6.8" text-anchor="end" fill="#231f20" stroke="#231f20" stroke-width="0.12" font-weight="normal" textLength="19.27" lengthAdjust="spacingAndGlyphs" >10,000</text>
<line x1="62.70" y1="545.16" x2="65.90" y2="545.16" stroke="#1a1a1a" stroke-width="1.3" />
<text x="60.10" y="547.36" font-size="6.8" text-anchor="end" fill="#231f20" stroke="#231f20" stroke-width="0.12" font-weight="normal" textLength="14.26" lengthAdjust="spacingAndGlyphs" >1000</text>
<line x1="62.70" y1="574.09" x2="65.90" y2="574.09" stroke="#1a1a1a" stroke-width="1.3" />
<text x="60.10" y="576.29" font-size="6.8" text-anchor="end" fill="#231f20" stroke="#231f20" stroke-width="0.12" font-weight="normal" textLength="10.70" lengthAdjust="spacingAndGlyphs" >100</text>
<text x="20.90" y="516.30" transform="rotate(-90 20.90 516.30)" font-size="8.2" text-anchor="middle" fill="#231f20" stroke="#231f20" stroke-width="0.12" font-weight="normal" textLength="72.50" lengthAdjust="spacingAndGlyphs" >Peak of CAR gene copies</text>
<text x="30.90" y="516.30" transform="rotate(-90 30.90 516.30)" font-size="8.2" text-anchor="middle" fill="#231f20" stroke="#231f20" stroke-width="0.12" font-weight="normal" textLength="61.90" lengthAdjust="spacingAndGlyphs" >per µg DNA in blood</text>
<line x1="93.20" y1="578.30" x2="93.20" y2="581.10" stroke="#1a1a1a" stroke-width="0.9" />
<line x1="149.90" y1="578.30" x2="149.90" y2="581.10" stroke="#1a1a1a" stroke-width="0.9" />
<line x1="93.20" y1="472.70" x2="93.20" y2="483.90" stroke="#363636" stroke-width="1.2" />
<line x1="93.20" y1="534.40" x2="93.20" y2="544.30" stroke="#363636" stroke-width="1.2" />
<line x1="86.90" y1="472.70" x2="99.50" y2="472.70" stroke="#363636" stroke-width="1.2" />
<line x1="86.90" y1="544.30" x2="99.50" y2="544.30" stroke="#363636" stroke-width="1.2" />
<rect x="80.20" y="483.90" width="25.90" height="50.50" fill="none" stroke="#363636" stroke-width="1.2" rx="0.8"/>
<line x1="80.20" y1="499.40" x2="106.10" y2="499.40" stroke="#151515" stroke-width="1.4" />
<line x1="149.90" y1="468.80" x2="149.90" y2="479.70" stroke="#363636" stroke-width="1.2" />
<line x1="149.90" y1="495.20" x2="149.90" y2="512.80" stroke="#363636" stroke-width="1.2" />
<line x1="143.65" y1="468.80" x2="156.15" y2="468.80" stroke="#363636" stroke-width="1.2" />
<line x1="143.65" y1="512.80" x2="156.15" y2="512.80" stroke="#363636" stroke-width="1.2" />
<rect x="137.00" y="479.70" width="25.90" height="15.50" fill="none" stroke="#363636" stroke-width="1.2" rx="0.8"/>
<line x1="137.00" y1="487.00" x2="162.90" y2="487.00" stroke="#151515" stroke-width="1.4" />
<circle cx="93.20" cy="472.70" r="1.1" fill="#b3102f"/>
<circle cx="93.20" cy="492.80" r="1.1" fill="#b3102f"/>
<circle cx="93.20" cy="498.00" r="1.1" fill="#52b22e"/>
<circle cx="93.20" cy="501.00" r="1.1" fill="#1f3f8f"/>
<circle cx="93.20" cy="532.00" r="1.1" fill="#1f3f8f"/>
<circle cx="93.20" cy="544.50" r="1.1" fill="#1f3f8f"/>
<circle cx="149.90" cy="468.80" r="1.1" fill="#b3102f"/>
<circle cx="149.90" cy="471.00" r="1.1" fill="#1f3f8f"/>
<circle cx="149.90" cy="474.00" r="1.1" fill="#b3102f"/>
<circle cx="149.90" cy="476.50" r="1.1" fill="#b3102f"/>
<circle cx="149.90" cy="478.00" r="1.1" fill="#b3102f"/>
<circle cx="149.90" cy="481.00" r="1.1" fill="#1f3f8f"/>
<circle cx="149.90" cy="483.00" r="1.1" fill="#b3102f"/>
<circle cx="149.90" cy="485.00" r="1.1" fill="#b3102f"/>
<circle cx="149.90" cy="487.00" r="1.1" fill="#1f3f8f"/>
<circle cx="149.90" cy="489.00" r="1.1" fill="#b3102f"/>
<circle cx="149.90" cy="491.00" r="1.1" fill="#1f3f8f"/>
<circle cx="149.90" cy="493.00" r="1.1" fill="#b3102f"/>
<circle cx="149.90" cy="494.50" r="1.1" fill="#1f3f8f"/>
<circle cx="149.90" cy="496.00" r="1.1" fill="#b3102f"/>
<circle cx="149.90" cy="497.50" r="1.1" fill="#52b22e"/>
<circle cx="149.90" cy="499.00" r="1.1" fill="#b3102f"/>
<circle cx="149.90" cy="508.00" r="1.1" fill="#b3102f"/>
<circle cx="149.90" cy="510.00" r="1.1" fill="#1f3f8f"/>
<circle cx="149.90" cy="512.80" r="1.1" fill="#1f3f8f"/>
<rect x="156.85" y="554.25" width="1.9" height="1.9" rx="0.5" fill="#52b22e"/>
<text x="161.80" y="556.80" font-size="5.1" text-anchor="start" fill="#231f20" stroke="#231f20" stroke-width="0.12" font-weight="normal" textLength="11.53" lengthAdjust="spacingAndGlyphs" >2×10</text>
<text x="173.63" y="554.66" font-size="3.0599999999999996" text-anchor="start" fill="#231f20" stroke="#231f20" stroke-width="0.12" font-weight="normal" textLength="1.72" lengthAdjust="spacingAndGlyphs" >6</text>
<rect x="156.85" y="561.40" width="1.9" height="1.9" rx="0.5" fill="#b3102f"/>
<text x="161.80" y="563.95" font-size="5.1" text-anchor="start" fill="#231f20" stroke="#231f20" stroke-width="0.12" font-weight="normal" textLength="11.53" lengthAdjust="spacingAndGlyphs" >1×10</text>
<text x="173.63" y="561.81" font-size="3.0599999999999996" text-anchor="start" fill="#231f20" stroke="#231f20" stroke-width="0.12" font-weight="normal" textLength="1.72" lengthAdjust="spacingAndGlyphs" >6</text>
<rect x="156.85" y="568.55" width="1.9" height="1.9" rx="0.5" fill="#1f3f8f"/>
<text x="161.80" y="571.10" font-size="5.1" text-anchor="start" fill="#231f20" stroke="#231f20" stroke-width="0.12" font-weight="normal" textLength="15.42" lengthAdjust="spacingAndGlyphs" >0.5×10</text>
<text x="177.52" y="568.96" font-size="3.0599999999999996" text-anchor="start" fill="#231f20" stroke="#231f20" stroke-width="0.12" font-weight="normal" textLength="1.72" lengthAdjust="spacingAndGlyphs" >6</text>
<text x="92.90" y="590.00" font-size="6.8" text-anchor="middle" fill="#231f20" stroke="#231f20" stroke-width="0.12" font-weight="normal" textLength="14.06" lengthAdjust="spacingAndGlyphs" >MRD</text>
<text x="92.90" y="597.85" font-size="6.8" text-anchor="middle" fill="#231f20" stroke="#231f20" stroke-width="0.12" font-weight="normal" textLength="22.81" lengthAdjust="spacingAndGlyphs" >Positive</text>
<text x="92.90" y="605.70" font-size="6.8" text-anchor="middle" fill="#231f20" stroke="#231f20" stroke-width="0.12" font-weight="normal" textLength="15.62" lengthAdjust="spacingAndGlyphs" >(n=6)</text>
<text x="149.90" y="590.00" font-size="6.8" text-anchor="middle" fill="#231f20" stroke="#231f20" stroke-width="0.12" font-weight="normal" textLength="14.06" lengthAdjust="spacingAndGlyphs" >MRD</text>
<text x="149.90" y="597.85" font-size="6.8" text-anchor="middle" fill="#231f20" stroke="#231f20" stroke-width="0.12" font-weight="normal" textLength="26.23" lengthAdjust="spacingAndGlyphs" >Negative</text>
<text x="149.90" y="605.70" font-size="6.8" text-anchor="middle" fill="#231f20" stroke="#231f20" stroke-width="0.12" font-weight="normal" textLength="19.21" lengthAdjust="spacingAndGlyphs" >(n=33)</text>
<text x="196.0" y="448.8" font-size="12.2" font-weight="bold" fill="#000">E</text>
<line x1="232.60" y1="455.00" x2="232.60" y2="579.20" stroke="#1a1a1a" stroke-width="1.3" />
<line x1="232.00" y1="578.60" x2="346.80" y2="578.60" stroke="#1a1a1a" stroke-width="1.3" />
<line x1="229.40" y1="487.30" x2="232.60" y2="487.30" stroke="#1a1a1a" stroke-width="1.3" />
<text x="226.70" y="489.50" font-size="6.8" text-anchor="end" fill="#231f20" stroke="#231f20" stroke-width="0.12" font-weight="normal" textLength="22.83" lengthAdjust="spacingAndGlyphs" >100,000</text>
<line x1="229.40" y1="516.23" x2="232.60" y2="516.23" stroke="#1a1a1a" stroke-width="1.3" />
<text x="226.70" y="518.43" font-size="6.8" text-anchor="end" fill="#231f20" stroke="#231f20" stroke-width="0.12" font-weight="normal" textLength="19.27" lengthAdjust="spacingAndGlyphs" >10,000</text>
<line x1="229.40" y1="545.16" x2="232.60" y2="545.16" stroke="#1a1a1a" stroke-width="1.3" />
<text x="226.70" y="547.36" font-size="6.8" text-anchor="end" fill="#231f20" stroke="#231f20" stroke-width="0.12" font-weight="normal" textLength="14.26" lengthAdjust="spacingAndGlyphs" >1000</text>
<line x1="229.40" y1="574.09" x2="232.60" y2="574.09" stroke="#1a1a1a" stroke-width="1.3" />
<text x="226.70" y="576.29" font-size="6.8" text-anchor="end" fill="#231f20" stroke="#231f20" stroke-width="0.12" font-weight="normal" textLength="10.70" lengthAdjust="spacingAndGlyphs" >100</text>
<line x1="259.40" y1="578.60" x2="259.40" y2="581.40" stroke="#1a1a1a" stroke-width="0.9" />
<line x1="316.00" y1="578.60" x2="316.00" y2="581.40" stroke="#1a1a1a" stroke-width="0.9" />
<line x1="259.40" y1="471.70" x2="259.40" y2="485.40" stroke="#363636" stroke-width="1.2" />
<line x1="259.40" y1="509.90" x2="259.40" y2="569.60" stroke="#363636" stroke-width="1.2" />
<line x1="253.15" y1="471.70" x2="265.65" y2="471.70" stroke="#363636" stroke-width="1.2" />
<line x1="253.15" y1="569.60" x2="265.65" y2="569.60" stroke="#363636" stroke-width="1.2" />
<rect x="246.50" y="485.40" width="26.00" height="24.50" fill="none" stroke="#363636" stroke-width="1.2" rx="0.8"/>
<line x1="246.50" y1="493.80" x2="272.50" y2="493.80" stroke="#151515" stroke-width="1.4" />
<line x1="316.00" y1="468.50" x2="316.00" y2="474.40" stroke="#363636" stroke-width="1.2" />
<line x1="316.00" y1="488.10" x2="316.00" y2="536.10" stroke="#363636" stroke-width="1.2" />
<line x1="309.75" y1="468.50" x2="322.25" y2="468.50" stroke="#363636" stroke-width="1.2" />
<line x1="309.75" y1="536.10" x2="322.25" y2="536.10" stroke="#363636" stroke-width="1.2" />
<rect x="303.20" y="474.40" width="25.80" height="13.70" fill="none" stroke="#363636" stroke-width="1.2" rx="0.8"/>
<line x1="303.20" y1="482.90" x2="329.00" y2="482.90" stroke="#151515" stroke-width="1.4" />
<circle cx="259.40" cy="471.70" r="1.1" fill="#b3102f"/>
<circle cx="259.40" cy="473.50" r="1.1" fill="#b3102f"/>
<circle cx="259.40" cy="475.50" r="1.1" fill="#b3102f"/>
<circle cx="259.40" cy="477.50" r="1.1" fill="#b3102f"/>
<circle cx="259.40" cy="479.50" r="1.1" fill="#b3102f"/>
<circle cx="259.40" cy="481.50" r="1.1" fill="#b3102f"/>
<circle cx="259.40" cy="484.00" r="1.1" fill="#1f3f8f"/>
<circle cx="259.40" cy="486.00" r="1.1" fill="#b3102f"/>
<circle cx="259.40" cy="487.50" r="1.1" fill="#b3102f"/>
<circle cx="259.40" cy="489.30" r="1.1" fill="#1f3f8f"/>
<circle cx="259.40" cy="491.00" r="1.1" fill="#b3102f"/>
<circle cx="259.40" cy="493.00" r="1.1" fill="#b3102f"/>
<circle cx="259.40" cy="494.70" r="1.1" fill="#b3102f"/>
<circle cx="259.40" cy="497.90" r="1.1" fill="#52b22e"/>
<circle cx="259.40" cy="501.30" r="1.1" fill="#1f3f8f"/>
<circle cx="259.40" cy="508.10" r="1.1" fill="#b3102f"/>
<circle cx="259.40" cy="510.80" r="1.1" fill="#1f3f8f"/>
<circle cx="259.40" cy="513.00" r="1.1" fill="#1f3f8f"/>
<circle cx="259.40" cy="532.30" r="1.1" fill="#1f3f8f"/>
<circle cx="259.40" cy="542.70" r="1.1" fill="#1f3f8f"/>
<circle cx="259.40" cy="544.50" r="1.1" fill="#1f3f8f"/>
<circle cx="259.40" cy="569.60" r="1.1" fill="#1f3f8f"/>
<circle cx="316.00" cy="468.50" r="1.1" fill="#b3102f"/>
<circle cx="316.00" cy="471.50" r="1.1" fill="#1f3f8f"/>
<circle cx="316.00" cy="474.00" r="1.1" fill="#b3102f"/>
<circle cx="316.00" cy="475.50" r="1.1" fill="#b3102f"/>
<circle cx="316.00" cy="481.00" r="1.1" fill="#52b22e"/>
<circle cx="316.00" cy="482.50" r="1.1" fill="#1f3f8f"/>
<circle cx="316.00" cy="484.00" r="1.1" fill="#b3102f"/>
<circle cx="316.00" cy="486.50" r="1.1" fill="#1f3f8f"/>
<circle cx="316.00" cy="488.50" r="1.1" fill="#b3102f"/>
<circle cx="316.00" cy="489.50" r="1.1" fill="#b3102f"/>
<circle cx="316.00" cy="496.50" r="1.1" fill="#52b22e"/>
<circle cx="316.00" cy="498.50" r="1.1" fill="#b3102f"/>
<circle cx="316.00" cy="536.10" r="1.1" fill="#1f3f8f"/>
<rect x="322.05" y="553.65" width="1.9" height="1.9" rx="0.5" fill="#52b22e"/>
<text x="327.00" y="556.20" font-size="5.1" text-anchor="start" fill="#231f20" stroke="#231f20" stroke-width="0.12" font-weight="normal" textLength="11.53" lengthAdjust="spacingAndGlyphs" >2×10</text>
<text x="338.83" y="554.06" font-size="3.0599999999999996" text-anchor="start" fill="#231f20" stroke="#231f20" stroke-width="0.12" font-weight="normal" textLength="1.72" lengthAdjust="spacingAndGlyphs" >6</text>
<rect x="322.05" y="560.85" width="1.9" height="1.9" rx="0.5" fill="#b3102f"/>
<text x="327.00" y="563.40" font-size="5.1" text-anchor="start" fill="#231f20" stroke="#231f20" stroke-width="0.12" font-weight="normal" textLength="11.53" lengthAdjust="spacingAndGlyphs" >1×10</text>
<text x="338.83" y="561.26" font-size="3.0599999999999996" text-anchor="start" fill="#231f20" stroke="#231f20" stroke-width="0.12" font-weight="normal" textLength="1.72" lengthAdjust="spacingAndGlyphs" >6</text>
<rect x="322.05" y="568.05" width="1.9" height="1.9" rx="0.5" fill="#1f3f8f"/>
<text x="327.00" y="570.60" font-size="5.1" text-anchor="start" fill="#231f20" stroke="#231f20" stroke-width="0.12" font-weight="normal" textLength="15.42" lengthAdjust="spacingAndGlyphs" >0.5×10</text>
<text x="342.72" y="568.46" font-size="3.0599999999999996" text-anchor="start" fill="#231f20" stroke="#231f20" stroke-width="0.12" font-weight="normal" textLength="1.72" lengthAdjust="spacingAndGlyphs" >6</text>
<text x="259.40" y="590.10" font-size="6.8" text-anchor="middle" fill="#231f20" stroke="#231f20" stroke-width="0.12" font-weight="normal" textLength="26.89" lengthAdjust="spacingAndGlyphs" >≤Grade 2</text>
<text x="259.40" y="597.95" font-size="6.8" text-anchor="middle" fill="#231f20" stroke="#231f20" stroke-width="0.12" font-weight="normal" textLength="53.06" lengthAdjust="spacingAndGlyphs" >Neurologic Events</text>
<text x="259.40" y="605.80" font-size="6.8" text-anchor="middle" fill="#231f20" stroke="#231f20" stroke-width="0.12" font-weight="normal" textLength="19.21" lengthAdjust="spacingAndGlyphs" >(n=26)</text>
<text x="316.00" y="590.10" font-size="6.8" text-anchor="middle" fill="#231f20" stroke="#231f20" stroke-width="0.12" font-weight="normal" textLength="26.89" lengthAdjust="spacingAndGlyphs" >≥Grade 3</text>
<text x="316.00" y="597.95" font-size="6.8" text-anchor="middle" fill="#231f20" stroke="#231f20" stroke-width="0.12" font-weight="normal" textLength="53.06" lengthAdjust="spacingAndGlyphs" >Neurologic Events</text>
<text x="316.00" y="605.80" font-size="6.8" text-anchor="middle" fill="#231f20" stroke="#231f20" stroke-width="0.12" font-weight="normal" textLength="19.21" lengthAdjust="spacingAndGlyphs" >(n=17)</text>
<text x="362.5" y="448.8" font-size="12.2" font-weight="bold" fill="#000">F</text>
<line x1="398.60" y1="454.50" x2="398.60" y2="578.80" stroke="#1a1a1a" stroke-width="1.3" />
<line x1="398.00" y1="578.20" x2="512.80" y2="578.20" stroke="#1a1a1a" stroke-width="1.3" />
<line x1="395.40" y1="487.30" x2="398.60" y2="487.30" stroke="#1a1a1a" stroke-width="1.3" />
<text x="392.10" y="489.50" font-size="6.8" text-anchor="end" fill="#231f20" stroke="#231f20" stroke-width="0.12" font-weight="normal" textLength="22.83" lengthAdjust="spacingAndGlyphs" >100,000</text>
<line x1="395.40" y1="516.23" x2="398.60" y2="516.23" stroke="#1a1a1a" stroke-width="1.3" />
<text x="392.10" y="518.43" font-size="6.8" text-anchor="end" fill="#231f20" stroke="#231f20" stroke-width="0.12" font-weight="normal" textLength="19.27" lengthAdjust="spacingAndGlyphs" >10,000</text>
<line x1="395.40" y1="545.16" x2="398.60" y2="545.16" stroke="#1a1a1a" stroke-width="1.3" />
<text x="392.10" y="547.36" font-size="6.8" text-anchor="end" fill="#231f20" stroke="#231f20" stroke-width="0.12" font-weight="normal" textLength="14.26" lengthAdjust="spacingAndGlyphs" >1000</text>
<line x1="395.40" y1="574.09" x2="398.60" y2="574.09" stroke="#1a1a1a" stroke-width="1.3" />
<text x="392.10" y="576.29" font-size="6.8" text-anchor="end" fill="#231f20" stroke="#231f20" stroke-width="0.12" font-weight="normal" textLength="10.70" lengthAdjust="spacingAndGlyphs" >100</text>
<line x1="425.30" y1="578.20" x2="425.30" y2="581.00" stroke="#1a1a1a" stroke-width="0.9" />
<line x1="482.20" y1="578.20" x2="482.20" y2="581.00" stroke="#1a1a1a" stroke-width="0.9" />
<line x1="425.30" y1="468.90" x2="425.30" y2="483.30" stroke="#363636" stroke-width="1.2" />
<line x1="425.30" y1="508.00" x2="425.30" y2="569.60" stroke="#363636" stroke-width="1.2" />
<line x1="419.05" y1="468.90" x2="431.55" y2="468.90" stroke="#363636" stroke-width="1.2" />
<line x1="419.05" y1="569.60" x2="431.55" y2="569.60" stroke="#363636" stroke-width="1.2" />
<rect x="412.10" y="483.30" width="26.50" height="24.70" fill="none" stroke="#363636" stroke-width="1.2" rx="0.8"/>
<line x1="412.10" y1="489.30" x2="438.60" y2="489.30" stroke="#151515" stroke-width="1.4" />
<line x1="482.20" y1="471.10" x2="482.20" y2="476.50" stroke="#363636" stroke-width="1.2" />
<line x1="482.20" y1="497.40" x2="482.20" y2="536.20" stroke="#363636" stroke-width="1.2" />
<line x1="475.95" y1="471.10" x2="488.45" y2="471.10" stroke="#363636" stroke-width="1.2" />
<line x1="475.95" y1="536.20" x2="488.45" y2="536.20" stroke="#363636" stroke-width="1.2" />
<rect x="469.30" y="476.50" width="25.80" height="20.90" fill="none" stroke="#363636" stroke-width="1.2" rx="0.8"/>
<line x1="469.30" y1="483.30" x2="495.10" y2="483.30" stroke="#151515" stroke-width="1.4" />
<circle cx="425.30" cy="468.90" r="1.1" fill="#b3102f"/>
<circle cx="425.30" cy="470.50" r="1.1" fill="#b3102f"/>
<circle cx="425.30" cy="472.00" r="1.1" fill="#b3102f"/>
<circle cx="425.30" cy="473.50" r="1.1" fill="#b3102f"/>
<circle cx="425.30" cy="475.00" r="1.1" fill="#b3102f"/>
<circle cx="425.30" cy="477.00" r="1.1" fill="#b3102f"/>
<circle cx="425.30" cy="481.50" r="1.1" fill="#52b22e"/>
<circle cx="425.30" cy="483.30" r="1.1" fill="#b3102f"/>
<circle cx="425.30" cy="485.00" r="1.1" fill="#b3102f"/>
<circle cx="425.30" cy="486.50" r="1.1" fill="#b3102f"/>
<circle cx="425.30" cy="488.00" r="1.1" fill="#b3102f"/>
<circle cx="425.30" cy="489.80" r="1.1" fill="#b3102f"/>
<circle cx="425.30" cy="491.70" r="1.1" fill="#1f3f8f"/>
<circle cx="425.30" cy="497.60" r="1.1" fill="#52b22e"/>
<circle cx="425.30" cy="498.70" r="1.1" fill="#b3102f"/>
<circle cx="425.30" cy="507.50" r="1.1" fill="#b3102f"/>
<circle cx="425.30" cy="510.60" r="1.1" fill="#1f3f8f"/>
<circle cx="425.30" cy="512.00" r="1.1" fill="#1f3f8f"/>
<circle cx="425.30" cy="513.00" r="1.1" fill="#1f3f8f"/>
<circle cx="425.30" cy="532.10" r="1.1" fill="#1f3f8f"/>
<circle cx="425.30" cy="542.10" r="1.1" fill="#1f3f8f"/>
<circle cx="425.30" cy="544.00" r="1.1" fill="#1f3f8f"/>
<circle cx="425.30" cy="569.60" r="1.1" fill="#1f3f8f"/>
<circle cx="482.20" cy="471.10" r="1.1" fill="#1f3f8f"/>
<circle cx="482.20" cy="474.50" r="1.1" fill="#b3102f"/>
<circle cx="482.20" cy="476.50" r="1.1" fill="#b3102f"/>
<circle cx="482.20" cy="478.00" r="1.1" fill="#b3102f"/>
<circle cx="482.20" cy="481.60" r="1.1" fill="#b3102f"/>
<circle cx="482.20" cy="483.30" r="1.1" fill="#1f3f8f"/>
<circle cx="482.20" cy="484.50" r="1.1" fill="#b3102f"/>
<circle cx="482.20" cy="495.20" r="1.1" fill="#b3102f"/>
<circle cx="482.20" cy="498.30" r="1.1" fill="#52b22e"/>
<circle cx="482.20" cy="501.50" r="1.1" fill="#1f3f8f"/>
<circle cx="482.20" cy="536.20" r="1.1" fill="#1f3f8f"/>
<rect x="489.05" y="553.25" width="1.9" height="1.9" rx="0.5" fill="#52b22e"/>
<text x="494.00" y="555.80" font-size="5.1" text-anchor="start" fill="#231f20" stroke="#231f20" stroke-width="0.12" font-weight="normal" textLength="11.53" lengthAdjust="spacingAndGlyphs" >2×10</text>
<text x="505.83" y="553.66" font-size="3.0599999999999996" text-anchor="start" fill="#231f20" stroke="#231f20" stroke-width="0.12" font-weight="normal" textLength="1.72" lengthAdjust="spacingAndGlyphs" >6</text>
<rect x="489.05" y="560.45" width="1.9" height="1.9" rx="0.5" fill="#b3102f"/>
<text x="494.00" y="563.00" font-size="5.1" text-anchor="start" fill="#231f20" stroke="#231f20" stroke-width="0.12" font-weight="normal" textLength="11.53" lengthAdjust="spacingAndGlyphs" >1×10</text>
<text x="505.83" y="560.86" font-size="3.0599999999999996" text-anchor="start" fill="#231f20" stroke="#231f20" stroke-width="0.12" font-weight="normal" textLength="1.72" lengthAdjust="spacingAndGlyphs" >6</text>
<rect x="489.05" y="567.65" width="1.9" height="1.9" rx="0.5" fill="#1f3f8f"/>
<text x="494.00" y="570.20" font-size="5.1" text-anchor="start" fill="#231f20" stroke="#231f20" stroke-width="0.12" font-weight="normal" textLength="15.42" lengthAdjust="spacingAndGlyphs" >0.5×10</text>
<text x="509.72" y="568.06" font-size="3.0599999999999996" text-anchor="start" fill="#231f20" stroke="#231f20" stroke-width="0.12" font-weight="normal" textLength="1.72" lengthAdjust="spacingAndGlyphs" >6</text>
<text x="425.30" y="590.10" font-size="6.8" text-anchor="middle" fill="#231f20" stroke="#231f20" stroke-width="0.12" font-weight="normal" textLength="39.65" lengthAdjust="spacingAndGlyphs" >≤Grade 2 CRS</text>
<text x="425.30" y="597.95" font-size="6.8" text-anchor="middle" fill="#231f20" stroke="#231f20" stroke-width="0.12" font-weight="normal" textLength="19.21" lengthAdjust="spacingAndGlyphs" >(n=30)</text>
<text x="482.20" y="590.10" font-size="6.8" text-anchor="middle" fill="#231f20" stroke="#231f20" stroke-width="0.12" font-weight="normal" textLength="39.65" lengthAdjust="spacingAndGlyphs" >≥Grade 3 CRS</text>
<text x="482.20" y="597.95" font-size="6.8" text-anchor="middle" fill="#231f20" stroke="#231f20" stroke-width="0.12" font-weight="normal" textLength="19.21" lengthAdjust="spacingAndGlyphs" >(n=13)</text>
</svg>
</body></html>
